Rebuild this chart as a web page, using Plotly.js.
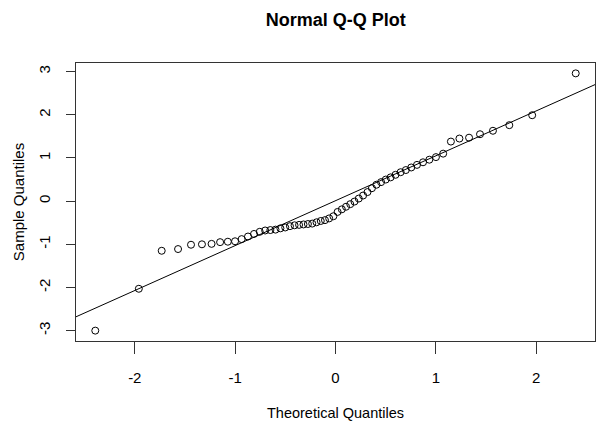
<!DOCTYPE html>
<html>
<head>
<meta charset="utf-8">
<script src="https://cdn.plot.ly/plotly-3.0.1.min.js"></script>
<style>html,body{margin:0;padding:0;background:#fff;}#chart{width:597px;height:429px;}</style>
</head>
<body>
<div id="chart"></div>
<script>
// Theoretical quantiles (n = 60)
const theoretical = [
  -2.394, -1.960, -1.732, -1.569, -1.440, -1.331, -1.235, -1.150, -1.073, -1.001,
  -0.935, -0.872, -0.812, -0.755, -0.701, -0.649, -0.598, -0.549, -0.501, -0.454,
  -0.408, -0.363, -0.319, -0.275, -0.232, -0.189, -0.147, -0.105, -0.063, -0.021,
   0.021,  0.063,  0.105,  0.147,  0.189,  0.232,  0.275,  0.319,  0.363,  0.408,
   0.454,  0.501,  0.549,  0.598,  0.649,  0.701,  0.755,  0.812,  0.872,  0.935,
   1.001,  1.073,  1.150,  1.235,  1.331,  1.440,  1.569,  1.732,  1.960,  2.394
];
// Sample quantiles (sorted sample)
const sample = [
  -3.00, -2.03, -1.15, -1.11, -1.01, -1.00, -0.99, -0.95, -0.94, -0.93,
  -0.88, -0.82, -0.76, -0.71, -0.68, -0.67, -0.66, -0.63, -0.61, -0.58,
  -0.56, -0.55, -0.54, -0.53, -0.52, -0.49, -0.46, -0.44, -0.40, -0.35,
  -0.25, -0.19, -0.13, -0.07, -0.01,  0.06,  0.13,  0.21,  0.30,  0.38,
   0.44,  0.50,  0.55,  0.61,  0.67,  0.72,  0.78,  0.84,  0.90,  0.96,
   1.02,  1.10,  1.38,  1.45,  1.47,  1.55,  1.63,  1.76,  1.99,  2.96
];
// Reference line (qqline)
const lineIntercept = 0.01;
const lineSlope = 1.04;
const xRange = [-2.586, 2.586];
const yRange = [-3.24, 3.20];
const xTicks = [-2, -1, 0, 1, 2];
const yTicks = [-3, -2, -1, 0, 1, 2, 3];

const FONT = "'Liberation Sans', Arial, sans-serif";

const pts = {
  x: theoretical, y: sample, type: 'scatter', mode: 'markers',
  marker: {symbol: 'circle-open', size: 7, color: '#000', line: {width: 1, color: '#000'}},
  hoverinfo: 'x+y', showlegend: false
};
const refLine = {
  x: xRange, y: xRange.map(v => lineIntercept + lineSlope * v),
  type: 'scatter', mode: 'lines', line: {color: '#000', width: 1},
  showlegend: false, hoverinfo: 'skip'
};

const layout = {
  width: 597, height: 429,
  margin: {l: 76, r: 2, t: 63, b: 88},
  paper_bgcolor: '#fff', plot_bgcolor: '#fff',
  font: {family: FONT, color: '#000', size: 15},
  title: {text: '<b>Normal Q-Q Plot</b>', font: {family: FONT, size: 18, color: '#000'},
          x: 0.5625, xanchor: 'center', y: 0.953, yanchor: 'middle'},
  xaxis: {
    range: xRange, tickvals: xTicks, ticktext: xTicks.map(String),
    ticks: 'outside', ticklen: 12, tickwidth: 1, tickcolor: '#333',
    showline: true, linecolor: '#333', linewidth: 1, mirror: true,
    showgrid: false, zeroline: false, ticklabelstandoff: 11,
    tickfont: {size: 15, family: FONT},
    title: {text: 'Theoretical Quantiles', font: {size: 14.5, family: FONT}, standoff: 22}
  },
  yaxis: {
    range: yRange, tickvals: yTicks, ticktext: yTicks.map(String),
    ticks: 'outside', ticklen: 9, tickwidth: 1, tickcolor: '#333', tickangle: -90,
    showline: true, linecolor: '#333', linewidth: 1, mirror: true,
    showgrid: false, zeroline: false, ticklabelstandoff: 10,
    tickfont: {size: 15, family: FONT},
    title: {text: 'Sample Quantiles', font: {size: 15, family: FONT}, standoff: 7}
  }
};

Plotly.newPlot('chart', [refLine, pts], layout, {displayModeBar: false, staticPlot: true});
</script>
</body>
</html>
